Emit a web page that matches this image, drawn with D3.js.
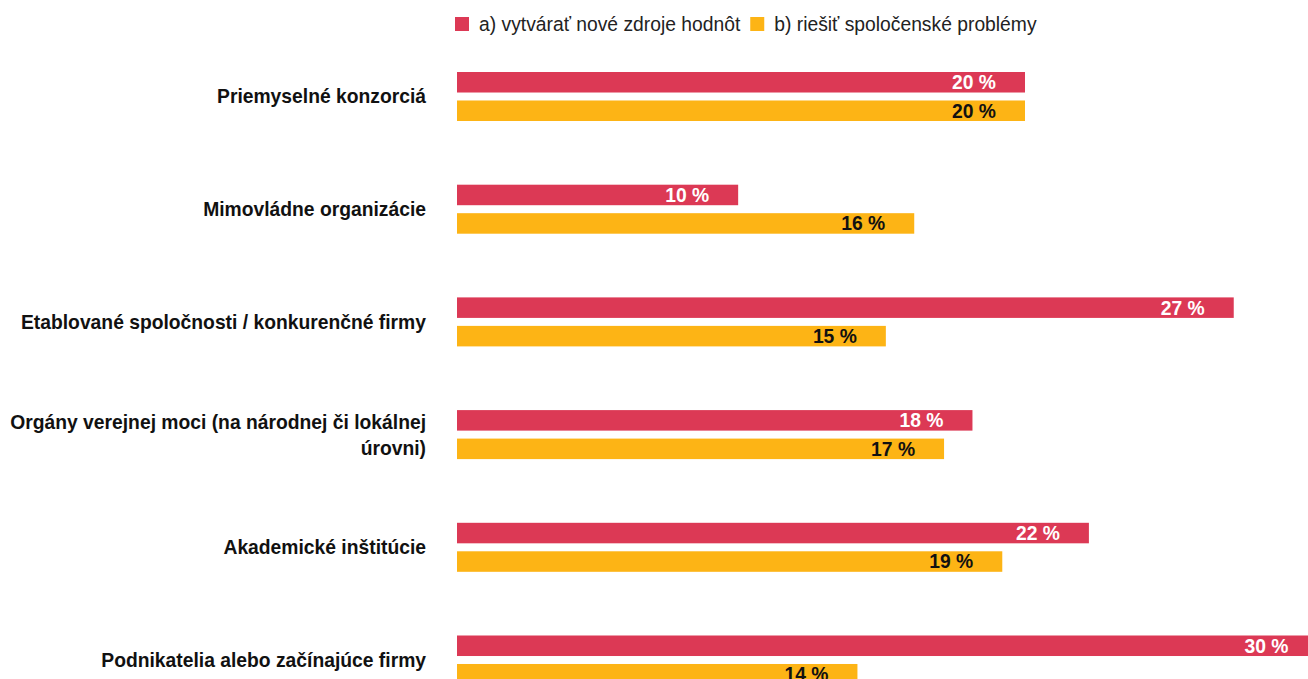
<!DOCTYPE html>
<html>
<head>
<meta charset="utf-8">
<script src="https://cdn.jsdelivr.net/npm/d3@7"></script>
<style>
    html, body { margin: 0; padding: 0; background: #ffffff; }
    svg { display: block; font-family: 'Liberation Sans', Arial, sans-serif; }
</style>
</head>
<body>
<div id="chart"></div>
<script>

var categories = [
    'Priemyselné konzorciá',
    'Mimovládne organizácie',
    'Etablované spoločnosti / konkurenčné firmy',
    'Orgány verejnej moci (na národnej či lokálnej úrovni)',
    'Akademické inštitúcie',
    'Podnikatelia alebo začínajúce firmy'
];

var seriesNames = [ 'a) vytvárať nové zdroje hodnôt', 'b) riešiť spoločenské problémy' ];

var valuesA = [ 20.0, 9.9, 27.35, 18.15, 22.25, 30.3 ];
var valuesB = [ 20.0, 16.1, 15.1, 17.15, 19.2, 14.1 ];

var colors = [ '#dc3955', '#fdb415' ];
var labelColors = [ '#ffffff', '#111111' ];

var width = 1308,
    height = 679,
    fontSize = '19.3px';

var svg = d3.select('#chart').append('svg')
    .attr('width', width)
    .attr('height', height);

var x = d3.scaleLinear()
    .domain([ 0, 30 ])
    .range([ 457, 1309 ]);

var y0 = d3.scaleBand()
    .domain( categories )
    .range([ 72, 72 + 112.7 * categories.length ]);

var y1 = d3.scaleBand()
    .domain( seriesNames )
    .range([ 0, 49 ])
    .paddingInner( 0.28 );

var rows = categories.map( function ( c, i ) {
    return { category: c, values: [ valuesA[i], valuesB[i] ] };
});

// bars

var group = svg.selectAll('.row')
    .data( rows )
    .enter().append('g')
    .attr('class', 'row')
    .attr('transform', function ( d ) { return 'translate(0,' + y0( d.category ) + ')'; });

var bar = group.selectAll('.bar')
    .data( function ( d ) {
        return d.values.map( function ( v, j ) { return { series: seriesNames[j], value: v, j: j }; });
    })
    .enter().append('g')
    .attr('class', 'bar');

bar.append('rect')
    .attr('x', x( 0 ))
    .attr('y', function ( d ) { return y1( d.series ); })
    .attr('width', function ( d ) { return x( d.value ) - x( 0 ); })
    .attr('height', y1.bandwidth())
    .style('fill', function ( d ) { return colors[ d.j ]; });

bar.append('text')
    .attr('x', function ( d ) { return x( d.value ) - 29; })
    .attr('y', function ( d ) { return y1( d.series ) + y1.bandwidth() / 2; })
    .attr('dy', '0.36em')
    .attr('text-anchor', 'end')
    .style('font-size', fontSize)
    .style('font-weight', 'bold')
    .style('fill', function ( d ) { return labelColors[ d.j ]; })
    .text( function ( d ) { return Math.round( d.value ) + ' %'; });

// category labels

var catLabel = group.append('text')
    .attr('x', 426)
    .attr('text-anchor', 'end')
    .style('font-size', fontSize)
    .style('font-weight', 'bold')
    .style('fill', '#111111');

catLabel.each( function ( d ) {

    var text = d3.select( this ),
        words = d.category.split(' '),
        lines = [],
        line = [];

    var probe = text.append('tspan');

    words.forEach( function ( w ) {
        line.push( w );
        probe.text( line.join(' ') );
        if ( probe.node().getComputedTextLength() > 424 && line.length > 1 ) {
            line.pop();
            lines.push( line.join(' ') );
            line = [ w ];
        }
    });
    lines.push( line.join(' ') );
    probe.remove();

    var lineHeight = 26,
        center = 24.5,
        top = center - ( lines.length - 1 ) * lineHeight / 2;

    lines.forEach( function ( l, k ) {
        text.append('tspan')
            .attr('x', 426)
            .attr('y', top + k * lineHeight)
            .attr('dy', '0.36em')
            .text( l );
    });

});

// legend

var legend = svg.append('g')
    .attr('transform', 'translate(455,24)');

var lx = 0;

seriesNames.forEach( function ( name, j ) {

    var item = legend.append('g')
        .attr('transform', 'translate(' + lx + ',0)');

    item.append('rect')
        .attr('x', 0)
        .attr('y', -7)
        .attr('width', 14)
        .attr('height', 14)
        .style('fill', colors[ j ]);

    var t = item.append('text')
        .attr('x', 24)
        .attr('dy', '0.36em')
        .style('font-size', fontSize)
        .style('fill', '#222222')
        .text( name );

    lx += 24 + t.node().getComputedTextLength() + 10;

});

</script>
</body>
</html>
